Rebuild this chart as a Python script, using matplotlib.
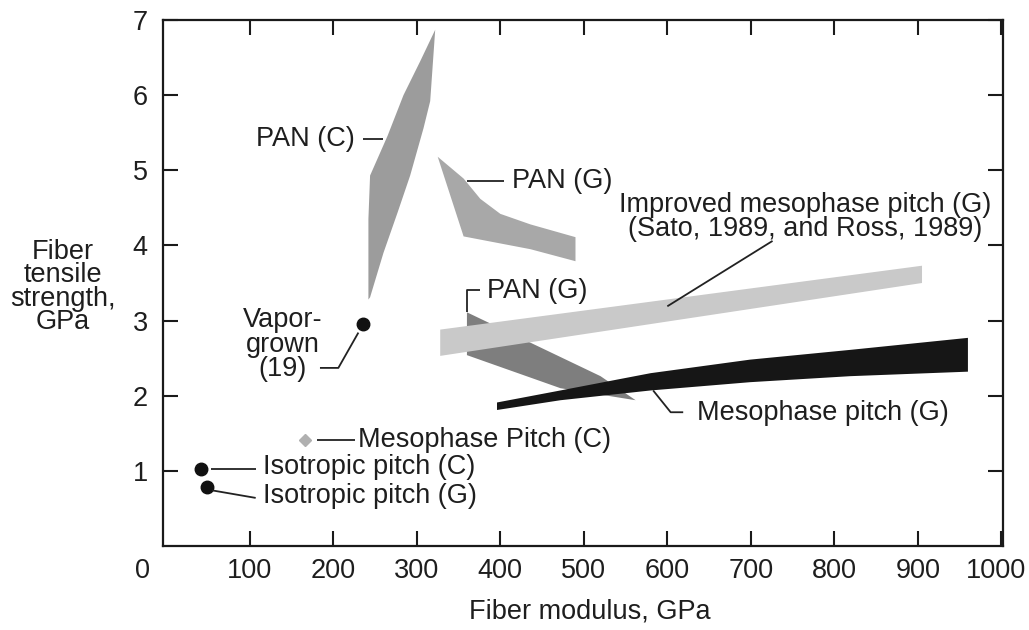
import matplotlib
matplotlib.use("Agg")
import matplotlib.pyplot as plt
from matplotlib.patches import Polygon
from matplotlib.transforms import blended_transform_factory

plt.rcParams['font.family'] = ['Liberation Sans', 'DejaVu Sans']

# ---------------- data (modulus GPa, strength GPa) ----------------
pan_c_mod = [322, 316, 308, 292, 277, 260, 244, 242, 242, 244, 265, 284, 304, 322]
pan_c_str = [6.87, 5.92, 5.56, 4.93, 4.44, 3.90, 3.31, 3.28, 4.35, 4.93, 5.46, 6.00, 6.45, 6.87]

pan_g_hi_mod = [325, 356, 376, 400, 436, 490, 490, 436, 356]
pan_g_hi_str = [5.18, 4.89, 4.62, 4.42, 4.28, 4.11, 3.79, 3.95, 4.12]

pan_g_lo_mod = [360, 520, 562, 472, 360]
pan_g_lo_str = [3.11, 2.26, 1.94, 2.10, 2.54]

improved_mod = [328, 905, 905, 328]
improved_str = [2.88, 3.73, 3.50, 2.53]

meso_g_mod = [396, 472, 580, 699, 819, 960, 960, 819, 699, 580, 472, 396]
meso_g_str = [1.91, 2.07, 2.30, 2.48, 2.61, 2.77, 2.32, 2.26, 2.18, 2.07, 1.94, 1.81]

vapor_mod, vapor_str = [236], [2.95]
meso_c_mod, meso_c_str = [166], [1.41]
iso_c_mod, iso_c_str = [41], [1.03]
iso_g_mod, iso_g_str = [49], [0.78]

x_ticks = [100, 200, 300, 400, 500, 600, 700, 800, 900, 1000]
x_tick_labels = ['100', '200', '300', '400', '500', '600', '700', '800', '900', '1000']
y_ticks = [1, 2, 3, 4, 5, 6, 7]
y_tick_labels = ['1', '2', '3', '4', '5', '6', '7']

# ---------------- figure ----------------
W, H = 1029, 630
fig = plt.figure(figsize=(W / 100, H / 100), dpi=100)
fig.patch.set_facecolor('white')
ax = fig.add_axes([163 / W, 1 - 546 / H, (1003 - 163) / W, (546 - 20) / H])
ax.set_xlim(-4, 1002)
ax.set_ylim(0, 7)

FS = 19.5
TXT = '#1e1e1e'

def poly(xs, ys, color, z):
    p = Polygon(list(zip(xs, ys)), closed=True, facecolor=color,
                edgecolor='none', zorder=z)
    ax.add_patch(p)

poly(pan_c_mod, pan_c_str, '#9c9c9c', 2)
poly(pan_g_hi_mod, pan_g_hi_str, '#a8a8a8', 2)
poly(pan_g_lo_mod, pan_g_lo_str, '#7e7e7e', 2)
poly(improved_mod, improved_str, '#c9c9c9', 3)
poly(meso_g_mod, meso_g_str, '#161616', 4)

ax.plot(vapor_mod, vapor_str, 'o', color='#111111', ms=9, zorder=6)
ax.plot(iso_c_mod, iso_c_str, 'o', color='#111111', ms=9, zorder=6)
ax.plot(iso_g_mod, iso_g_str, 'o', color='#111111', ms=9, zorder=6)
ax.plot(meso_c_mod, meso_c_str, 'D', color='#b0b0b0', ms=6, zorder=6)

LW = 1.3
LC = '#222222'

def leader(xs, ys):
    ax.plot(xs, ys, color=LC, lw=LW, zorder=7, solid_capstyle='butt')

# PAN (C)
leader([235, 260], [5.42, 5.42])
ax.text(226, 5.41, 'PAN (C)', ha='right', va='center', fontsize=FS, color=TXT)
# PAN (G) upper
leader([360, 404], [4.86, 4.86])
ax.text(414, 4.86, 'PAN (G)', ha='left', va='center', fontsize=FS, color=TXT)
# Improved mesophase pitch
leader([726, 600], [4.06, 3.19])
ax.text(765, 4.38, 'Improved mesophase pitch (G)\n(Sato, 1989, and Ross, 1989)',
        ha='center', va='center', multialignment='center', fontsize=FS,
        color=TXT, linespacing=0.93)
# PAN (G) lower (bracket)
leader([360.5, 360.5, 376], [3.11, 3.41, 3.41])
ax.text(384, 3.40, 'PAN (G)', ha='left', va='center', fontsize=FS, color=TXT)
# Mesophase pitch (G)
leader([583, 604, 619], [2.07, 1.78, 1.78])
ax.text(636, 1.77, 'Mesophase pitch (G)', ha='left', va='center', fontsize=FS, color=TXT)
# Vapor-grown
leader([230, 206, 184], [2.84, 2.37, 2.37])
ax.text(139, 2.68, 'Vapor-\ngrown\n(19)', ha='center', va='center',
        multialignment='center', fontsize=FS, color=TXT, linespacing=0.93)
# Mesophase Pitch (C)
leader([181, 226], [1.41, 1.41])
ax.text(229, 1.41, 'Mesophase Pitch (C)', ha='left', va='center', fontsize=FS, color=TXT)
# Isotropic pitch (C)
leader([53, 107], [1.03, 1.03])
ax.text(116, 1.05, 'Isotropic pitch (C)', ha='left', va='center', fontsize=FS, color=TXT)
# Isotropic pitch (G)
leader([55, 107], [0.74, 0.64])
ax.text(116, 0.66, 'Isotropic pitch (G)', ha='left', va='center', fontsize=FS, color=TXT)

# ---------------- axes styling ----------------
for s in ax.spines.values():
    s.set_linewidth(1.6)
    s.set_color('#1a1a1a')

ax.set_xticks(x_ticks)
ax.set_xticklabels(x_tick_labels[:-1] + [''])
ax.set_yticks(y_ticks)
ax.set_yticklabels(y_tick_labels)
ax.tick_params(axis='both', direction='in', length=11, width=1.5,
               labelsize=FS, colors='#1a1a1a', top=True, right=True)
ax.tick_params(axis='x', pad=9)
ax.tick_params(axis='y', pad=11)
for lbl in ax.get_xticklabels() + ax.get_yticklabels():
    lbl.set_color(TXT)

trans = blended_transform_factory(ax.transData, ax.transAxes)
ax.text(-29, -0.048, '0', transform=trans, ha='center', va='center',
        fontsize=FS, color=TXT)
# last tick label nudged left so it stays inside the figure
ax.text(x_ticks[-1] - 6, -0.048, x_tick_labels[-1], transform=trans,
        ha='center', va='center', fontsize=FS, color=TXT)

fig.text(590 / W, 1 - 611 / H, 'Fiber modulus, GPa', ha='center', va='center',
         fontsize=FS, color=TXT)
fig.text(63 / W, 1 - 287 / H, 'Fiber\ntensile\nstrength,\nGPa', ha='center',
         va='center', multialignment='center', fontsize=FS, color=TXT,
         linespacing=0.88)

fig.savefig('out.png', dpi=100, facecolor='white')
